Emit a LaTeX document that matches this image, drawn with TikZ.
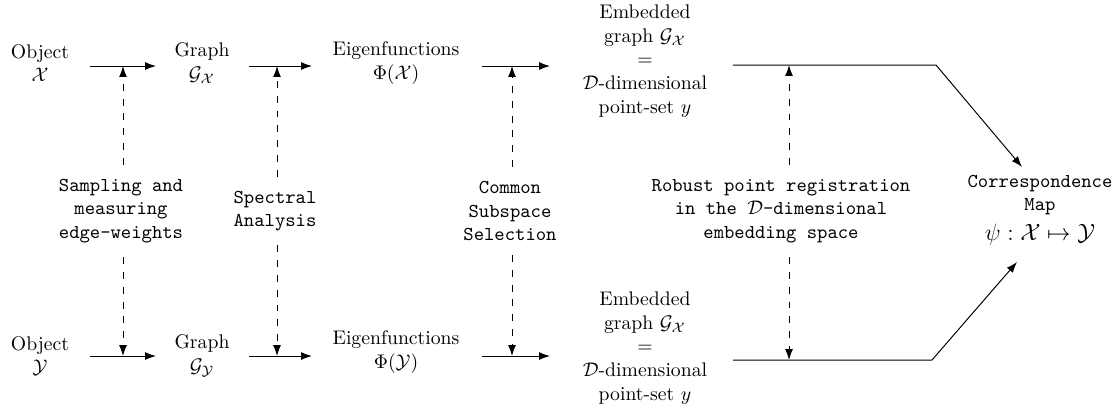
\documentclass[tikz,border=0pt]{standalone}
\usetikzlibrary{arrows.meta}
\begin{document}
\begin{tikzpicture}[x=0.5076pt,y=-0.5076pt,>={Latex[length=5.5pt,width=4pt]},line width=0.5pt,
  txt/.style={align=center,inner sep=2pt},
  lbl/.style={align=center,font=\ttfamily,inner sep=2pt},
  flow/.style={->},
  dashln/.style={->,dash pattern=on 3.5pt off 4pt,shorten <=5pt}]
\useasboundingbox (0,0) rectangle (1113,413);
% top row
\node[txt] (objX) at (40,63) {Object\\$\mathcal{X}$};
\node[txt] (graphX) at (202,63) {Graph\\$\mathcal{G}_{\mathcal{X}}$};
\node[txt] (eigX) at (396,63) {Eigenfunctions\\$\Phi(\mathcal{X})$};
\node[txt] (embX) at (645,61) {Embedded\\graph $\mathcal{G}_{\mathcal{X}}$\\$=$\\$\mathcal{D}$-dimensional\\point-set $y$};
% bottom row
\node[txt] (objY) at (40,356) {Object\\$\mathcal{Y}$};
\node[txt] (graphY) at (202,356) {Graph\\$\mathcal{G}_{\mathcal{Y}}$};
\node[txt] (eigY) at (396,352) {Eigenfunctions\\$\Phi(\mathcal{Y})$};
\node[txt] (embY) at (645,348) {Embedded\\graph $\mathcal{G}_{\mathcal{X}}$\\$=$\\$\mathcal{D}$-dimensional\\point-set $y$};
% labels
\node[lbl] (lab1) at (121,211) {Sampling and\\measuring\\edge-weights};
\node[lbl] (lab2) at (275,211) {Spectral\\Analysis};
\node[lbl] (lab3) at (510,211) {Common\\Subspace\\Selection};
\node[lbl] (lab4) at (781,211) {Robust point registration\\in the $\mathcal{D}$-dimensional\\embedding space};
\node[align=center,font=\ttfamily,inner sep=2pt] (corr) at (1040,210) {Correspondence\\Map\\[3pt]{\rmfamily\large$\psi:\mathcal{X}\mapsto\mathcal{Y}$}};
% coordinates
\coordinate (t1s) at (90,66);  \coordinate (t1e) at (156,66);
\coordinate (t2s) at (249,66); \coordinate (t2e) at (312,66);
\coordinate (t3s) at (482,66); \coordinate (t3e) at (550,66);
\coordinate (t4s) at (733,65); \coordinate (t4m) at (936,65); \coordinate (t4e) at (1022,167);
\coordinate (b1s) at (90,356);  \coordinate (b1e) at (156,356);
\coordinate (b2s) at (249,356); \coordinate (b2e) at (312,356);
\coordinate (b3s) at (482,356); \coordinate (b3e) at (550,356);
\coordinate (b4s) at (733,360); \coordinate (b4m) at (932,360); \coordinate (b4e) at (1017,262);
\coordinate (d1t) at (123,66); \coordinate (d1b) at (123,356);
\coordinate (d2t) at (277,66); \coordinate (d2b) at (277,356);
\coordinate (d3t) at (512,66); \coordinate (d3b) at (512,356);
\coordinate (d4t) at (789,65); \coordinate (d4b) at (789,360);
% flows
\draw[flow] (t1s) -- (t1e);
\draw[flow] (t2s) -- (t2e);
\draw[flow] (t3s) -- (t3e);
\draw[flow] (t4s) -- (t4m) -- (t4e);
\draw[flow] (b1s) -- (b1e);
\draw[flow] (b2s) -- (b2e);
\draw[flow] (b3s) -- (b3e);
\draw[flow] (b4s) -- (b4m) -- (b4e);
% dashed
\draw[dashln] (lab1.north -| d1t) -- (d1t);
\draw[dashln] (lab1.south -| d1b) -- (d1b);
\draw[dashln] (lab2.north -| d2t) -- (d2t);
\draw[dashln] (lab2.south -| d2b) -- (d2b);
\draw[dashln] (lab3.north -| d3t) -- (d3t);
\draw[dashln] (lab3.south -| d3b) -- (d3b);
\draw[dashln] (lab4.north -| d4t) -- (d4t);
\draw[dashln] (lab4.south -| d4b) -- (d4b);
\end{tikzpicture}
\end{document}
